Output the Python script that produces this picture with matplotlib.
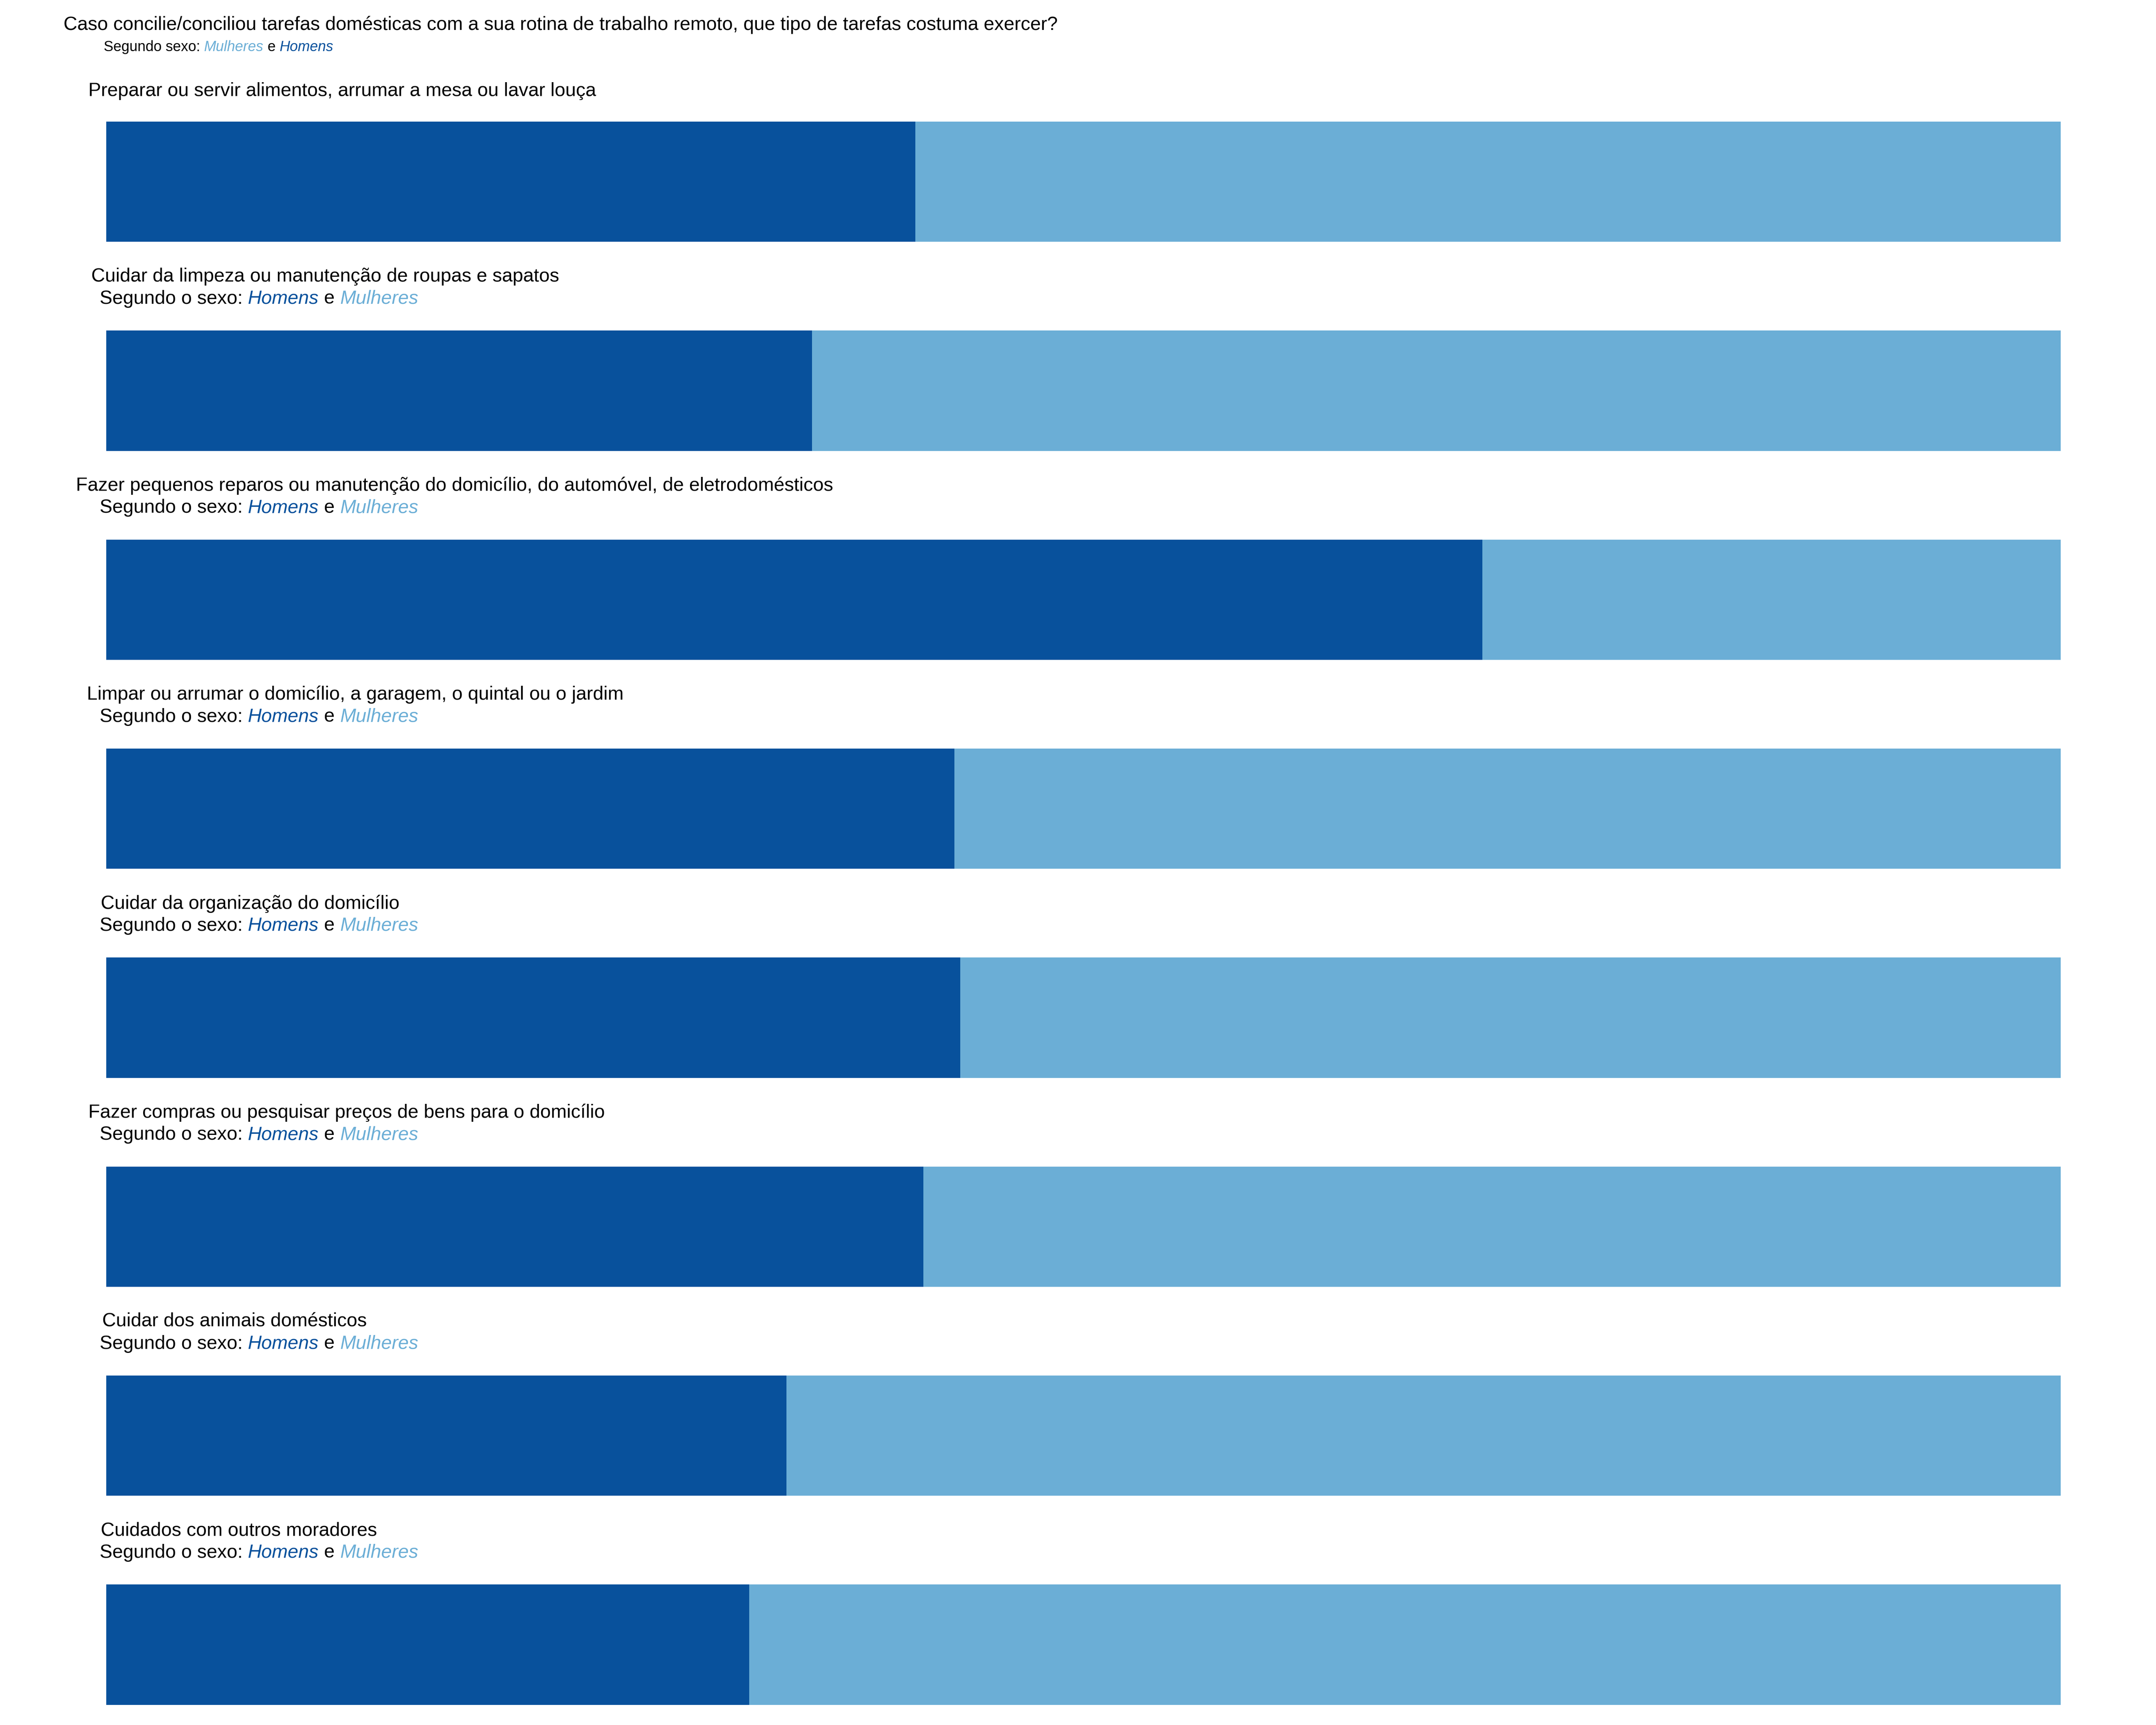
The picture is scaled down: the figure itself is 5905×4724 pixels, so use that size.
import matplotlib.pyplot as plt

tarefas = [
    "Preparar ou servir alimentos, arrumar a mesa ou lavar louça",
    "Cuidar da limpeza ou manutenção de roupas e sapatos",
    "Fazer pequenos reparos ou manutenção do domicílio, do automóvel, de eletrodomésticos",
    "Limpar ou arrumar o domicílio, a garagem, o quintal ou o jardim",
    "Cuidar da organização do domicílio",
    "Fazer compras ou pesquisar preços de bens para o domicílio",
    "Cuidar dos animais domésticos",
    "Cuidados com outros moradores",
]
homens = [41.4, 36.1, 70.4, 43.4, 43.7, 41.8, 34.8, 32.9]
mulheres = [100 - h for h in homens]
title_x = [64, 66, 55, 63, 73, 64, 74, 73]

DARK = "#08519c"
LIGHT = "#6baed6"
W, H = 1560.0, 1248.0

plt.rcParams['font.family'] = ['Liberation Sans', 'DejaVu Sans']
fig = plt.figure(figsize=(5905 / 300, 4724 / 300), dpi=300)
fig.canvas.draw()
renderer = fig.canvas.get_renderer()


def fx(x):
    return x / W


def fy(y):
    return 1 - y / H


def multi_text(x, y, parts, size):
    # draw coloured pieces one after another on a line
    cur = fx(x)
    for s, color, style in parts:
        t = fig.text(cur, fy(y), s, color=color, fontstyle=style, fontsize=size,
                     va='center', ha='left')
        bb = t.get_window_extent(renderer=renderer)
        cur += bb.width / fig.bbox.width


fig.text(fx(46), fy(18), "Caso concilie/conciliou tarefas domésticas com a sua rotina de trabalho remoto, "
         "que tipo de tarefas costuma exercer?", fontsize=12.5, va='center')
multi_text(75, 34, [("Segundo sexo: ", "black", "normal"), ("Mulheres", LIGHT, "italic"),
                    (" e ", "black", "normal"), ("Homens", DARK, "italic")], 9.5)

for i, nome in enumerate(tarefas):
    top = 88 + i * 151.2
    if i == 0:
        fig.text(fx(title_x[i]), fy(66), nome, fontsize=12.5, va='center')
    else:
        fig.text(fx(title_x[i]), fy(top - 39), nome, fontsize=12.5, va='center')
        multi_text(72, top - 23, [("Segundo o sexo: ", "black", "normal"), ("Homens", DARK, "italic"),
                                  (" e ", "black", "normal"), ("Mulheres", LIGHT, "italic")], 12.5)
    ax = fig.add_axes([fx(77), fy(top + 87), fx(1491 - 77), 87 / H])
    ax.barh([0], [homens[i]], color=DARK, height=1)
    ax.barh([0], [mulheres[i]], left=[homens[i]], color=LIGHT, height=1)
    ax.set_xlim(0, 100)
    ax.set_ylim(-0.5, 0.5)
    ax.axis('off')

fig.savefig("out.png", dpi=300)
